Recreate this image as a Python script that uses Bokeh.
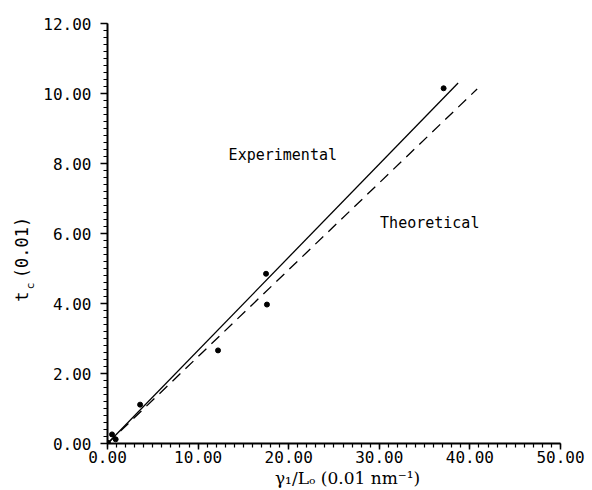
from bokeh.plotting import figure
from bokeh.models import Range1d, Label, SingleIntervalTicker, NumeralTickFormatter
from bokeh.layouts import row
from bokeh.core.properties import value
from bokeh.embed import file_html
from bokeh.resources import INLINE
import math

# ---- data ----
pts_x = [0.05, 0.5, 0.9, 3.6, 12.2, 17.5, 17.6, 37.1]
pts_y = [0.02, 0.26, 0.12, 1.11, 2.66, 4.85, 3.97, 10.15]

exp_x = [0.0, 38.7]
exp_y = [0.0, 10.3]

theo_x = [0.0, 40.8]
theo_y = [0.0, 10.13]

x_start, x_end, x_major, x_minor = 0.0, 50.0, 10, 10
y_start, y_end, y_major, y_minor = 0.0, 12.0, 2, 10

y_title_parts = ["t", "c", "(0.01)"]
x_title = "γ₁/Lₒ (0.01 nm⁻¹)"

MONO = "DejaVu Sans Mono"
H = 490
TOP, BOTTOM = 23, 47
STRIP_W = 40

yr = Range1d(y_start, y_end + 0.001)

p = figure(width=592 - STRIP_W, height=H, output_backend="svg", toolbar_location=None,
           x_range=Range1d(x_start, x_end + 0.001), y_range=yr,
           min_border_left=106 - STRIP_W, min_border_right=32,
           min_border_top=TOP, min_border_bottom=BOTTOM)

p.outline_line_color = None
p.xgrid.visible = False
p.ygrid.visible = False
p.background_fill_color = "white"
p.border_fill_color = "white"

p.xaxis.ticker = SingleIntervalTicker(interval=x_major, num_minor_ticks=x_minor)
p.yaxis.ticker = SingleIntervalTicker(interval=y_major, num_minor_ticks=y_minor)
for ax in (p.xaxis, p.yaxis):
    ax.formatter = NumeralTickFormatter(format="0.00")
    ax.axis_line_width = 2
    ax.axis_line_color = "black"
    ax.major_tick_line_color = "black"
    ax.minor_tick_line_color = "black"
    ax.major_tick_line_width = 1.5
    ax.minor_tick_line_width = 1.2
    ax.major_tick_in = 0
    ax.minor_tick_in = 0
    ax.minor_tick_out = 4
    ax.major_label_text_font = MONO
    ax.major_label_text_font_size = "16px"
    ax.major_label_text_color = "black"
p.xaxis.major_tick_out = 6
p.yaxis.major_tick_out = 7
p.xaxis.major_label_standoff = 1
p.yaxis.major_label_standoff = 9

p.line(exp_x, exp_y, line_color="black", line_width=1.3)
p.line(theo_x, theo_y, line_color="black", line_width=1.3, line_dash="11 7")
p.scatter(pts_x, pts_y, size=5, color="black")

p.add_layout(Label(x=19.35, y=8.23, text="Experimental", text_font=MONO,
                   text_font_size="15px", text_align="center", text_baseline="middle",
                   text_color="black"))
p.add_layout(Label(x=35.57, y=6.29, text="Theoretical", text_font=MONO,
                   text_font_size="15px", text_align="center", text_baseline="middle",
                   text_color="black"))

# x-axis title, in the panel below the axis
p.add_layout(Label(x=26.5, y=-1.0, text=x_title, text_font="DejaVu Serif",
                   text_font_size="17px", text_align="center", text_baseline="middle",
                   text_color="black"), "below")

# narrow strip on the left that carries the y-axis title t_c (0.01)
yf = figure(width=STRIP_W, height=H, output_backend="svg", toolbar_location=None,
            x_range=Range1d(0, STRIP_W), y_range=yr, x_axis_type=None, y_axis_type=None,
            min_border_left=0, min_border_right=0, min_border_top=TOP, min_border_bottom=BOTTOM)
yf.outline_line_color = None
yf.xgrid.visible = False
yf.ygrid.visible = False
yf.text(x=[21], y=[4.2], text=[y_title_parts[0]], angle=math.pi / 2,
        text_font=value(MONO), text_font_size="17px", text_align="center",
        text_baseline="middle", text_color="black")
yf.text(x=[29.5], y=[4.5], text=[y_title_parts[1]], angle=math.pi / 2,
        text_font=value(MONO), text_font_size="11px", text_align="center",
        text_baseline="middle", text_color="black")
yf.text(x=[21], y=[5.6], text=[y_title_parts[2]], angle=math.pi / 2,
        text_font=value(MONO), text_font_size="17px", text_align="center",
        text_baseline="middle", text_color="black")

layout = row(yf, p)
open("out.html", "w").write(file_html(layout, INLINE))
